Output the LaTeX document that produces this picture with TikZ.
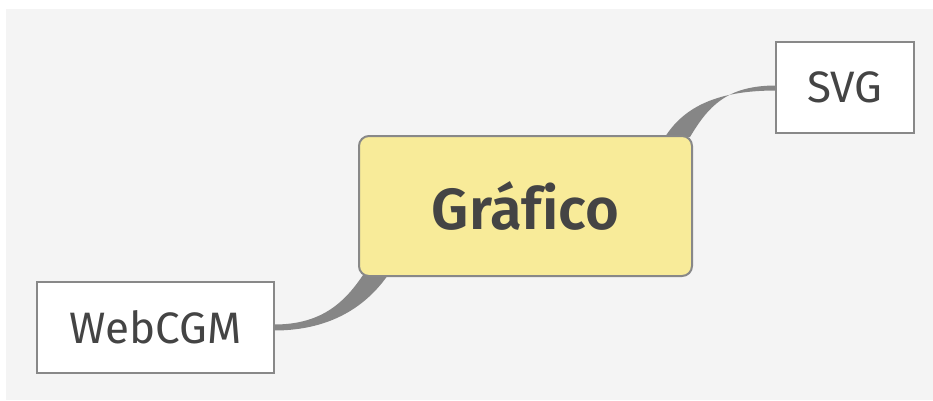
\documentclass[tikz,border=0pt]{standalone}
\usepackage{fontspec}
\setmainfont[Ligatures=CommonOff, BoldFont={Fira Sans SemiBold}]{Fira Sans}
\usetikzlibrary{calc}

\definecolor{bggray}{HTML}{F4F4F4}
\definecolor{boxline}{HTML}{888888}
\definecolor{mainfill}{HTML}{F8EB99}
\definecolor{textgray}{HTML}{444444}
\definecolor{branchgray}{HTML}{868686}

\pgfdeclarelayer{background}
\pgfsetlayers{background,main}

\begin{document}
\begin{tikzpicture}[
  x=1pt, y=-1pt,
  topic/.style = {draw=boxline, line width=2pt, fill=mainfill, rounded corners=10pt,
    minimum width=333pt, minimum height=140pt, text=textgray,
    font=\fontsize{58}{66}\selectfont\bfseries},
  leaf/.style = {draw=boxline, line width=2pt, fill=white, text=textgray,
    minimum height=91pt, font=\fontsize{44}{52}\selectfont},
  branch/.style = {fill=branchgray}
]

% Canvas
\useasboundingbox (0,0) rectangle (933,400);

% Topics
\node[topic] (main) at (525.5,206) {Gráfico};
\node[leaf, minimum width=237pt] (webcgm) at (155.5,327.5) {WebCGM};
\node[leaf, minimum width=138pt] (svg) at (845,87.5) {SVG};

% Branch ends on the main topic
\coordinate (w1) at ($(main.south west)+(5,-2)$);
\coordinate (w2) at ($(main.south west)+(30,-2)$);
\coordinate (s1) at ($(main.north east)+(-28,2)$);
\coordinate (s2) at ($(main.north east)+(-3,2)$);

\begin{pgfonlayer}{background}
  \fill[bggray] (6,9) rectangle (933,400);
  % Tapered branches
  \fill[branch] ($(webcgm.east)+(-1,-3)$) .. controls +(45,0) and +(-20,30) .. (w1)
    -- (w2) .. controls +(-28,40) and +(45,0) .. ($(webcgm.east)+(-1,3)$) -- cycle;
  \fill[branch] ($(svg.west)+(1,-2)$) .. controls +(-50,0) and +(18,-30) .. (s2)
    -- (s1) .. controls +(22,-35) and +(-50,0) .. ($(svg.west)+(1,3)$) -- cycle;
\end{pgfonlayer}

\end{tikzpicture}
\end{document}
